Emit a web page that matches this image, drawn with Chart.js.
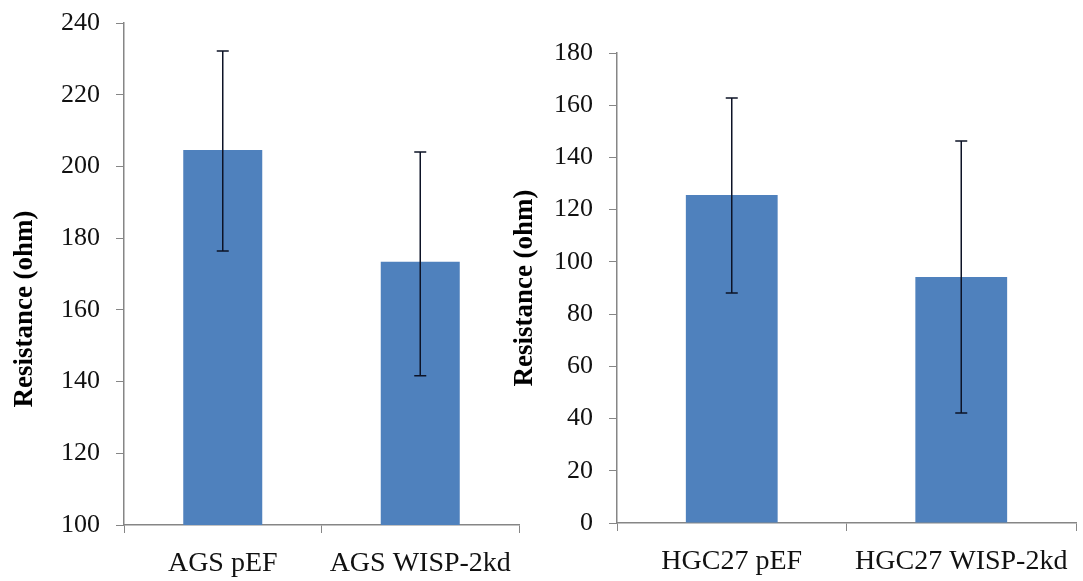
<!DOCTYPE html>
<html>
<head>
<meta charset="utf-8">
<script src="https://cdn.jsdelivr.net/npm/chart.js@4"></script>
<style>
  body { margin: 0; background: #fff; width: 1083px; height: 581px; overflow: hidden; position: relative; }
  .box { position: absolute; top: 0; height: 581px; }
  #left-box { left: 0; width: 530px; }
  #right-box { left: 505px; width: 578px; }
</style>
</head>
<body>
<div class="box" id="left-box"><canvas id="left-chart"></canvas></div>
<div class="box" id="right-box"><canvas id="right-chart"></canvas></div>
<script>
// AGS panel
const agsLabels = ['AGS pEF', 'AGS WISP-2kd'];
const agsValues = [204.6, 173.4];
const agsErrLow = [176.4, 141.6];
const agsErrHigh = [232.2, 204.0];
const agsTicks = [100, 240, 20];

// HGC27 panel
const hgcLabels = ['HGC27 pEF', 'HGC27 WISP-2kd'];
const hgcValues = [125.6, 94.2];
const hgcErrLow = [88.1, 42.1];
const hgcErrHigh = [162.8, 146.3];
const hgcTicks = [0, 180, 20];

const axisTitle = 'Resistance (ohm)';
const barColor = '#4f81bd';
const axisColor = '#868686';
const font = 'Liberation Serif, Times New Roman, serif';

const errorBars = {
  id: 'errorBars',
  afterDatasetsDraw(chart, args, opts) {
    const ctx = chart.ctx;
    const meta = chart.getDatasetMeta(0);
    const y = chart.scales.y;
    ctx.save();
    ctx.strokeStyle = '#0d1326';
    ctx.lineWidth = 1.5;
    meta.data.forEach((bar, i) => {
      const top = y.getPixelForValue(opts.high[i]);
      const bot = y.getPixelForValue(opts.low[i]);
      ctx.beginPath();
      ctx.moveTo(bar.x, top);
      ctx.lineTo(bar.x, bot);
      ctx.moveTo(bar.x - 6, top);
      ctx.lineTo(bar.x + 6, top);
      ctx.moveTo(bar.x - 6, bot);
      ctx.lineTo(bar.x + 6, bot);
      ctx.stroke();
    });
    ctx.restore();
  }
};

// y axis title, placed by hand since Excel did not centre it on the left panel
const sideTitle = {
  id: 'sideTitle',
  afterDraw(chart, args, opts) {
    const ctx = chart.ctx;
    ctx.save();
    ctx.translate(opts.x, opts.y);
    ctx.rotate(-Math.PI / 2);
    ctx.font = 'bold 27px ' + font;
    ctx.fillStyle = '#000';
    ctx.textAlign = 'center';
    ctx.textBaseline = 'middle';
    ctx.fillText(axisTitle, 0, 0);
    ctx.restore();
  }
};

function makeChart(id, labels, values, low, high, ticks, layout) {
  const ctx = document.getElementById(id).getContext('2d');
  return new Chart(ctx, {
    type: 'bar',
    data: {
      labels: labels,
      datasets: [{
        data: values,
        backgroundColor: barColor,
        barPercentage: 0.4,
        categoryPercentage: 1.0,
      }]
    },
    options: {
      responsive: true,
      maintainAspectRatio: false,
      animation: false,
      layout: { padding: layout.padding },
      plugins: {
        legend: { display: false },
        tooltip: { enabled: false },
        errorBars: { low: low, high: high },
        sideTitle: layout.title,
      },
      scales: {
        x: {
          grid: { drawOnChartArea: false, offset: true, tickLength: 8, color: axisColor, tickColor: axisColor },
          border: { color: axisColor, width: 1.5 },
          ticks: { color: '#111', padding: 14, maxRotation: 0, font: { family: font, size: 28 } },
          afterFit(scale) {
            scale.height = layout.xHeight;
            scale.paddingLeft = 0;
            scale.paddingRight = 0;
          }
        },
        y: {
          min: ticks[0],
          max: ticks[1],
          ticks: { stepSize: ticks[2], color: '#111', padding: 16, font: { family: font, size: 26 } },
          grid: { drawOnChartArea: false, tickLength: 8, color: axisColor, tickColor: axisColor },
          border: { color: axisColor, width: 1.5 },
          afterFit(scale) {
            scale.width = layout.yWidth;
            scale.paddingTop = 0;
            scale.paddingBottom = 0;
          }
        }
      }
    },
    plugins: [errorBars, sideTitle]
  });
}

makeChart('left-chart', agsLabels, agsValues, agsErrLow, agsErrHigh, agsTicks,
  { padding: { top: 23, right: 11, bottom: 0, left: 0 }, xHeight: 56, yWidth: 124, title: { x: 25, y: 309 } });
makeChart('right-chart', hgcLabels, hgcValues, hgcErrLow, hgcErrHigh, hgcTicks,
  { padding: { top: 53, right: 7, bottom: 0, left: 0 }, xHeight: 58, yWidth: 112, title: { x: 20, y: 288 } });
</script>
</body>
</html>
